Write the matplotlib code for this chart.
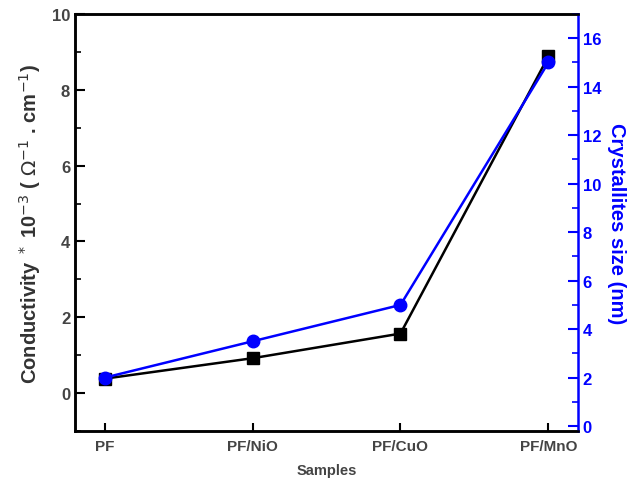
import numpy as np
import matplotlib.pyplot as plt
from matplotlib.ticker import MultipleLocator

plt.rcParams['font.family'] = ['Liberation Sans', 'DejaVu Sans']

samples = ['PF', 'PF/NiO', 'PF/CuO', 'PF/MnO']
conductivity = [0.38, 0.92, 1.57, 8.88]
crystallite = [2.0, 3.5, 5.0, 15.0]

x = np.arange(len(samples))

fig = plt.figure(figsize=(6.44, 4.89), dpi=100)
ax = fig.add_axes([75 / 644, 1 - 432 / 489, (578 - 75) / 644, (432 - 15) / 489])
ax2 = ax.twinx()

ax.plot(x, conductivity, color='black', marker='s', markersize=9, linewidth=1.8, zorder=3)
ax2.plot(x, crystallite, color='#0000ff', marker='o', markersize=9, linewidth=1.8, zorder=4)

ax.set_xlim(-0.2, 3.2)
ax.set_ylim(-1, 10)
ax2.set_ylim(-0.2, 17)

ax.set_xticks(x)
ax.set_xticklabels(samples)
ax.yaxis.set_major_locator(MultipleLocator(2))
ax.yaxis.set_minor_locator(MultipleLocator(1))
ax2.yaxis.set_major_locator(MultipleLocator(2))
ax2.yaxis.set_minor_locator(MultipleLocator(1))

ax.tick_params(axis='y', which='major', direction='in', length=7, width=1.5,
               labelsize=12, labelcolor='#444444')
ax.tick_params(axis='x', which='major', direction='in', length=6, width=1.5,
               labelsize=11, labelcolor='#444444', pad=6)
ax.tick_params(axis='y', which='minor', direction='in', length=4, width=1.2)
for lab in ax.get_xticklabels() + ax.get_yticklabels():
    lab.set_fontweight('bold')

ax2.tick_params(axis='y', which='major', direction='in', length=7, width=1.5,
                color='#0000ff', labelcolor='#0000ff', labelsize=12)
ax2.tick_params(axis='y', which='minor', direction='in', length=4, width=1.2, color='#0000ff')
for lab in ax2.get_yticklabels():
    lab.set_fontweight('bold')

for s in ['left', 'bottom', 'top']:
    ax.spines[s].set_linewidth(1.8)
    ax2.spines[s].set_linewidth(1.8)
ax2.spines['right'].set_color('#0000ff')
ax2.spines['right'].set_linewidth(1.8)
ax.spines['right'].set_visible(False)

ax.set_ylabel(r'Conductivity $^*$ 10$^{-3}$ ( $\Omega^{-1}$ . cm$^{-1}$)',
              fontsize=14.5, fontweight='bold', color='#333333', labelpad=6)
ax2.set_ylabel('Crystallites size (nm)', fontsize=14.5, fontweight='bold',
               color='#0000ff', rotation=270, labelpad=18)
ax.set_xlabel('Samples', fontsize=10.5, fontweight='bold', color='#444444', labelpad=7)

fig.savefig('out.png', dpi=100)
